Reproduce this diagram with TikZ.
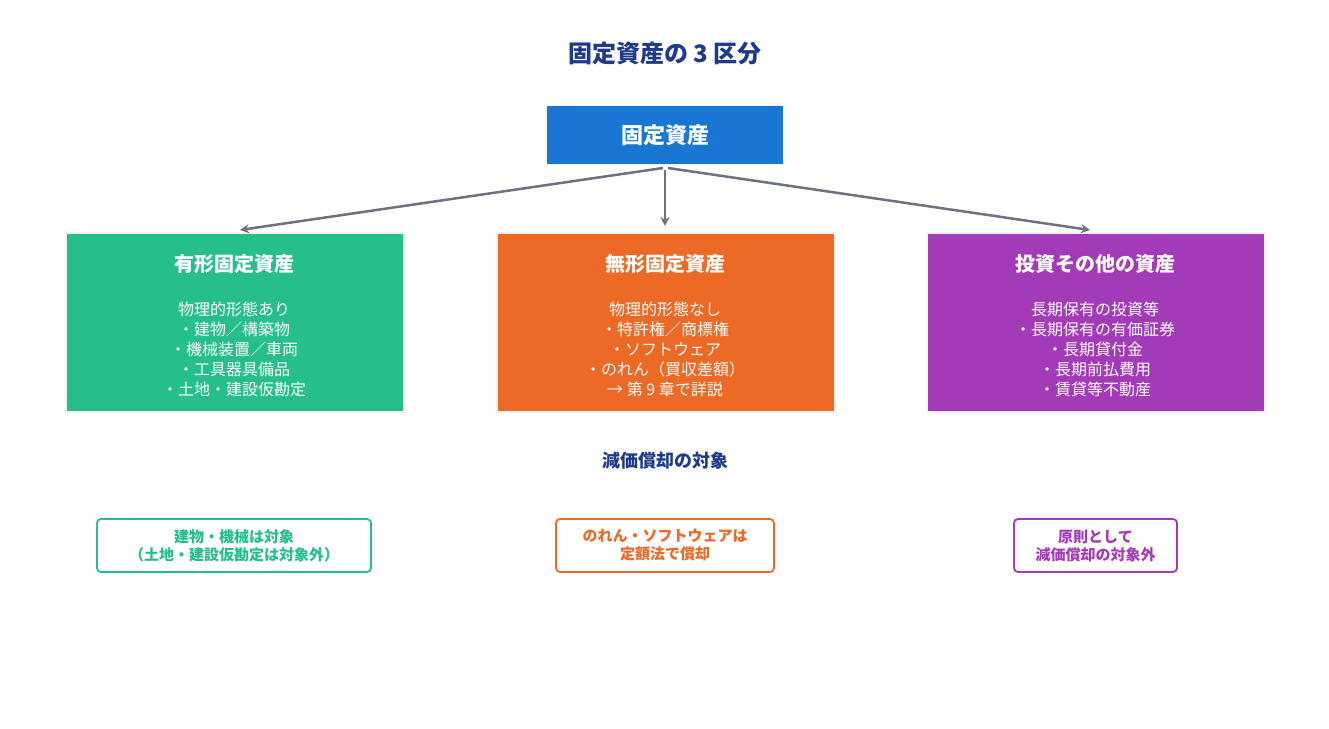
\documentclass[tikz,border=0pt]{standalone}
\usepackage{fontspec}
\setmainfont{Noto Sans CJK JP}
\usetikzlibrary{arrows.meta}
\definecolor{navy}{HTML}{1E3A8A}
\definecolor{topb}{HTML}{1976D2}
\definecolor{gr}{HTML}{26BF8A}
\definecolor{orr}{HTML}{EC6A25}
\definecolor{pu}{HTML}{A33BB8}
\definecolor{ar}{HTML}{6B7280}
\begin{document}
\begin{tikzpicture}[x=1pt,y=-1pt,
 cat/.style={draw=white!90!gray,line width=1.5pt,minimum width=338pt,minimum height=179pt,anchor=north west,inner sep=0pt},
 head/.style={text=white,font=\fontsize{20}{24}\selectfont\bfseries},
 body/.style={text=white,font=\fontsize{16}{20}\selectfont,align=center},
 note/.style={draw=#1,text=#1,fill=white,rounded corners=4pt,line width=1.8pt,font=\fontsize{15}{18}\selectfont\bfseries,align=center,inner sep=0pt},
 con/.style={draw=ar,line width=2.5pt,-{Stealth[length=9pt,width=9pt]}}]
\useasboundingbox[fill=white] (0,0) rectangle (1329,728);
\node[text=navy,font=\fontsize{24}{28}\selectfont\bfseries] (title) at (665,53) {固定資産の 3 区分};
\node[fill=topb,minimum width=236pt,minimum height=58pt,text=white,font=\fontsize{22}{26}\selectfont\bfseries,inner sep=0pt] (top) at (665,135) {固定資産};
\node[cat,fill=gr] (g) at (65,232) {};
\node[cat,fill=orr] (o) at (496,232) {};
\node[cat,fill=pu] (p) at (926,232) {};
\node[head] (gh) at (234,264) {有形固定資産};
\node[head] (oh) at (665,264) {無形固定資産};
\node[head] (ph) at (1095,264) {投資その他の資産};
\node[body,anchor=north] (gb) at (234,298) {物理的形態あり\\・建物／構築物\\・機械装置／車両\\・工具器具備品\\・土地・建設仮勘定};
\node[body,anchor=north] (ob) at (665,298) {物理的形態なし\\・特許権／商標権\\・ソフトウェア\\・のれん（買収差額）\\→ 第 9 章で詳説};
\node[body,anchor=north] (pb) at (1095,298) {長期保有の投資等\\・長期保有の有価証券\\・長期貸付金\\・長期前払費用\\・賃貸等不動産};
\coordinate (s1) at (663,168); \coordinate (e1) at (240,230);
\coordinate (s2) at (665,170); \coordinate (e2) at (665,226);
\coordinate (s3) at (668,168); \coordinate (e3) at (1090,230);
\draw[con] (s1) -- (e1);
\draw[con] (s2) -- (e2);
\draw[con] (s3) -- (e3);
\node[text=navy,font=\fontsize{18}{22}\selectfont\bfseries] (dep) at (665,461) {減価償却の対象};
\node[note=gr,minimum width=274pt,minimum height=53pt] (n1) at (234,545.5) {建物・機械は対象\\（土地・建設仮勘定は対象外）};
\node[note=orr,minimum width=218pt,minimum height=53pt] (n2) at (665,545.5) {のれん・ソフトウェアは\\定額法で償却};
\node[note=pu,minimum width=163pt,minimum height=53pt] (n3) at (1095.5,545.5) {原則として\\減価償却の対象外};
\end{tikzpicture}
\end{document}
